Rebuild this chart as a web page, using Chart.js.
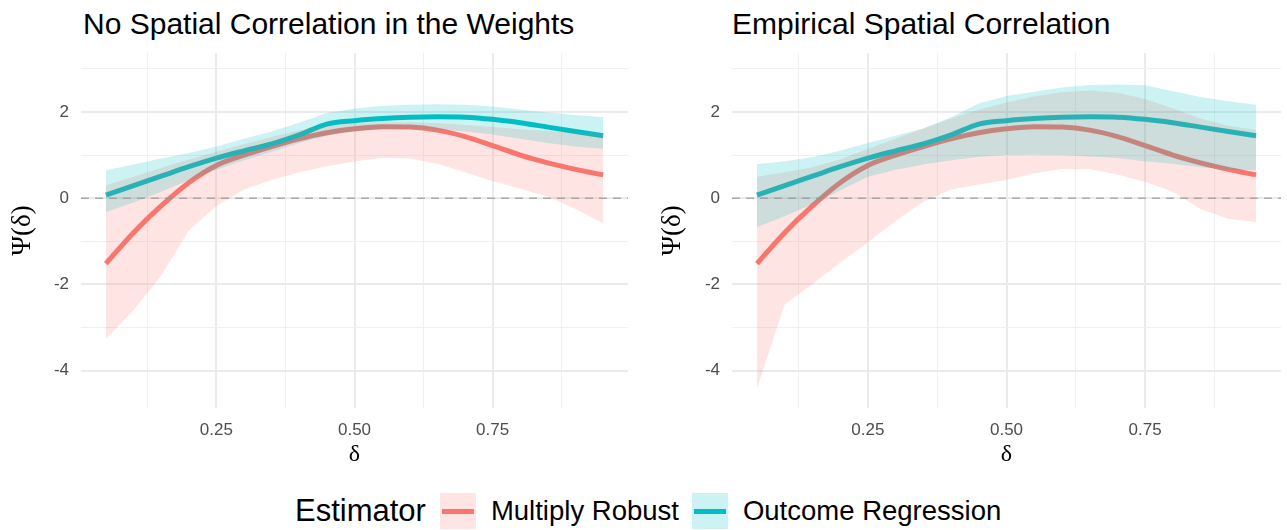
<!DOCTYPE html>
<html>
<head>
<meta charset="utf-8">
<script src="https://cdn.jsdelivr.net/npm/chart.js"></script>
<style>
  html, body { margin: 0; padding: 0; background: #fff; }
  body { width: 1287px; height: 530px; position: relative; overflow: hidden; font-family: 'Liberation Sans', Arial, sans-serif; }
  canvas { position: absolute; top: 0; }
  .ptitle { position: absolute; top: 8px; font-size: 30px; line-height: 32px; color: #000; white-space: nowrap; }
  .legend { position: absolute; left: 295px; top: 493px; height: 36px; display: flex; align-items: center; white-space: nowrap; }
  .legend .ltitle { font-size: 31px; margin-right: 14px; }
  .legend .key { width: 36px; height: 36px; position: relative; margin-right: 15px; }
  .legend .key span { position: absolute; left: 2px; right: 2px; top: 16px; height: 5px; }
  .legend .lab { font-size: 27.5px; margin-right: 13px; }
</style>
</head>
<body>
<div class="ptitle" style="left:83px">No Spatial Correlation in the Weights</div>
<div class="ptitle" style="left:732px">Empirical Spatial Correlation</div>
<canvas id="chartLeft" width="640" height="480" style="left:0"></canvas>
<canvas id="chartRight" width="642" height="480" style="left:645px"></canvas>
<div class="legend" id="legend"></div>

<script>
// ── Data ──────────────────────────────────────────────────────
const deltas = [0.05, 0.10, 0.15, 0.20, 0.25, 0.30, 0.35, 0.40, 0.45, 0.50,
                0.55, 0.60, 0.65, 0.70, 0.75, 0.80, 0.85, 0.90, 0.95];

// point estimates (same in both panels)
const mrEst = [-1.52, -0.80, -0.18, 0.36, 0.76, 1.00, 1.20, 1.38, 1.52, 1.61,
               1.66, 1.65, 1.58, 1.43, 1.22, 1.00, 0.82, 0.67, 0.54];
const orEst = [0.07, 0.29, 0.51, 0.73, 0.93, 1.10, 1.26, 1.47, 1.72, 1.80,
               1.85, 1.88, 1.89, 1.88, 1.83, 1.75, 1.65, 1.55, 1.45];

// left panel: no spatial correlation in the weights
const mrUpperNo = [0.30, 0.50, 0.70, 0.90, 1.08, 1.25, 1.42, 1.57, 1.68, 1.74,
                   1.76, 1.76, 1.74, 1.70, 1.65, 1.60, 1.56, 1.52, 1.50];
const mrLowerNo = [-3.26, -2.60, -1.80, -0.75, -0.18, 0.20, 0.42, 0.60, 0.74, 0.85,
                   0.94, 0.92, 0.80, 0.60, 0.40, 0.22, 0.04, -0.25, -0.58];
const orUpperNo = [0.65, 0.78, 0.92, 1.05, 1.20, 1.38, 1.55, 1.75, 1.98, 2.08,
                   2.14, 2.17, 2.18, 2.17, 2.13, 2.06, 1.99, 1.93, 1.88];
const orLowerNo = [-0.32, -0.10, 0.15, 0.42, 0.66, 0.88, 1.08, 1.28, 1.45, 1.55,
                   1.60, 1.62, 1.60, 1.55, 1.48, 1.38, 1.28, 1.20, 1.15];

// right panel: empirical spatial correlation
const mrUpperEmp = [0.50, 0.60, 0.72, 0.90, 1.15, 1.38, 1.62, 1.85, 2.05, 2.22,
                    2.36, 2.46, 2.50, 2.45, 2.30, 2.08, 1.85, 1.68, 1.58];
const mrLowerEmp = [-4.41, -2.47, -1.99, -1.50, -1.02, -0.53, -0.08, 0.20, 0.32, 0.42,
                    0.58, 0.68, 0.68, 0.55, 0.38, 0.15, -0.25, -0.48, -0.55];
const orUpperEmp = [0.79, 0.86, 0.95, 1.10, 1.28, 1.45, 1.62, 1.88, 2.20, 2.37,
                    2.47, 2.57, 2.63, 2.64, 2.62, 2.48, 2.35, 2.25, 2.17];
const orLowerEmp = [-0.67, -0.42, -0.14, 0.18, 0.50, 0.66, 0.78, 0.88, 0.96, 1.00,
                    1.01, 1.00, 0.97, 0.93, 0.86, 0.80, 0.72, 0.66, 0.65];

// axes
const xTickLabels = [0.25, 0.50, 0.75];
const xMinorTicks = [0.125, 0.375, 0.625, 0.875];
const yTickLabels = [-4, -2, 0, 2];
const yMinorTicks = [-3, -1, 1, 3];
const xLimits = [0.005, 0.995];
const yLimits = [-4.87, 3.37];
const refLineY = 0;

const seriesNames = ['Multiply Robust', 'Outcome Regression'];
const RED = '#F8766D', CYAN = '#00BFC4';
const RED_FILL = 'rgba(248,118,109,0.2)', CYAN_FILL = 'rgba(0,191,196,0.2)';

// ── Helpers ──────────────────────────────────────────────────
function pts(ys) { return deltas.map((x, i) => ({ x, y: ys[i] })); }

const zeroLine = {
  id: 'zeroLine',
  afterDatasetsDraw(chart) {
    const { ctx, chartArea, scales } = chart;
    const y = scales.y.getPixelForValue(refLineY);
    ctx.save();
    ctx.strokeStyle = 'rgba(150,150,150,0.75)';
    ctx.lineWidth = 1.5;
    ctx.setLineDash([8, 6]);
    ctx.beginPath();
    ctx.moveTo(chartArea.left, y);
    ctx.lineTo(chartArea.right, y);
    ctx.stroke();
    ctx.restore();
  }
};

function makePanel(id, bands, yAxisW, rightPad, yTitlePad) {
  const band = (ys, fill, order, color) => ({
    data: pts(ys), fill: fill, backgroundColor: color, borderWidth: 0,
    pointRadius: 0, tension: 0, order
  });
  const line = (ys, color, order) => ({
    data: pts(ys), fill: false, borderColor: color, borderWidth: 5,
    pointRadius: 0, cubicInterpolationMode: 'monotone', order
  });

  return new Chart(document.getElementById(id), {
    type: 'line',
    data: {
      datasets: [
        band(bands.mrUp, '+1', 2, RED_FILL),
        band(bands.mrLo, false, 2, 'transparent'),
        band(bands.orUp, '+1', 1, CYAN_FILL),
        band(bands.orLo, false, 1, 'transparent'),
        line(mrEst, RED, 4),
        line(orEst, CYAN, 3)
      ]
    },
    options: {
      responsive: false,
      animation: false,
      layout: { padding: { top: 53, right: rightPad, bottom: 0, left: 0 } },
      plugins: { legend: { display: false }, tooltip: { enabled: false }, title: { display: false } },
      scales: {
        x: {
          type: 'linear', min: xLimits[0], max: xLimits[1],
          afterBuildTicks: s => { s.ticks = xMinorTicks.concat(xTickLabels).sort((a, b) => a - b).map(v => ({ value: v })); },
          afterFit: s => { s.height = 72; },
          border: { display: false },
          grid: {
            drawTicks: false,
            color: ctx => xTickLabels.includes(ctx.tick.value) ? '#EBEBEB' : '#F0F0F0',
            lineWidth: ctx => xTickLabels.includes(ctx.tick.value) ? 2 : 1
          },
          ticks: {
            padding: 12, color: '#4D4D4D', maxRotation: 0, autoSkip: false,
            font: { family: 'Liberation Sans', size: 17 },
            callback: v => xTickLabels.includes(v) ? v.toFixed(2) : ''
          },
          title: {
            display: true, text: 'δ', color: '#000',
            font: { family: 'Liberation Serif', size: 24 },
            padding: { top: 0, bottom: 11 }
          }
        },
        y: {
          type: 'linear', min: yLimits[0], max: yLimits[1],
          afterBuildTicks: s => { s.ticks = yMinorTicks.concat(yTickLabels).sort((a, b) => a - b).map(v => ({ value: v })); },
          afterFit: s => { s.width = yAxisW; },
          border: { display: false },
          grid: {
            drawTicks: false,
            color: ctx => yTickLabels.includes(ctx.tick.value) ? '#EBEBEB' : '#F0F0F0',
            lineWidth: ctx => yTickLabels.includes(ctx.tick.value) ? 2 : 1
          },
          ticks: {
            padding: 12, color: '#4D4D4D', autoSkip: false,
            font: { family: 'Liberation Sans', size: 17 },
            callback: v => yTickLabels.includes(v) ? String(v) : ''
          },
          title: {
            display: true, text: 'Ψ(δ)', color: '#000',
            font: { family: 'Liberation Serif', size: 27 },
            padding: { top: yTitlePad, bottom: 0 }
          }
        }
      }
    },
    plugins: [zeroLine]
  });
}

makePanel('chartLeft',
  { mrUp: mrUpperNo, mrLo: mrLowerNo, orUp: orUpperNo, orLo: orLowerNo }, 81, 12, 7);
makePanel('chartRight',
  { mrUp: mrUpperEmp, mrLo: mrLowerEmp, orUp: orUpperEmp, orLo: orLowerEmp }, 87, 6, 12);

// ── Legend ───────────────────────────────────────────────────
const fills = [RED_FILL, CYAN_FILL], strokes = [RED, CYAN];
document.getElementById('legend').innerHTML =
  '<span class="ltitle">Estimator</span>' +
  seriesNames.map((n, i) =>
    `<span class="key" style="background:${fills[i]}"><span style="background:${strokes[i]}"></span></span>` +
    `<span class="lab">${n}</span>`).join('');
</script>
</body>
</html>
